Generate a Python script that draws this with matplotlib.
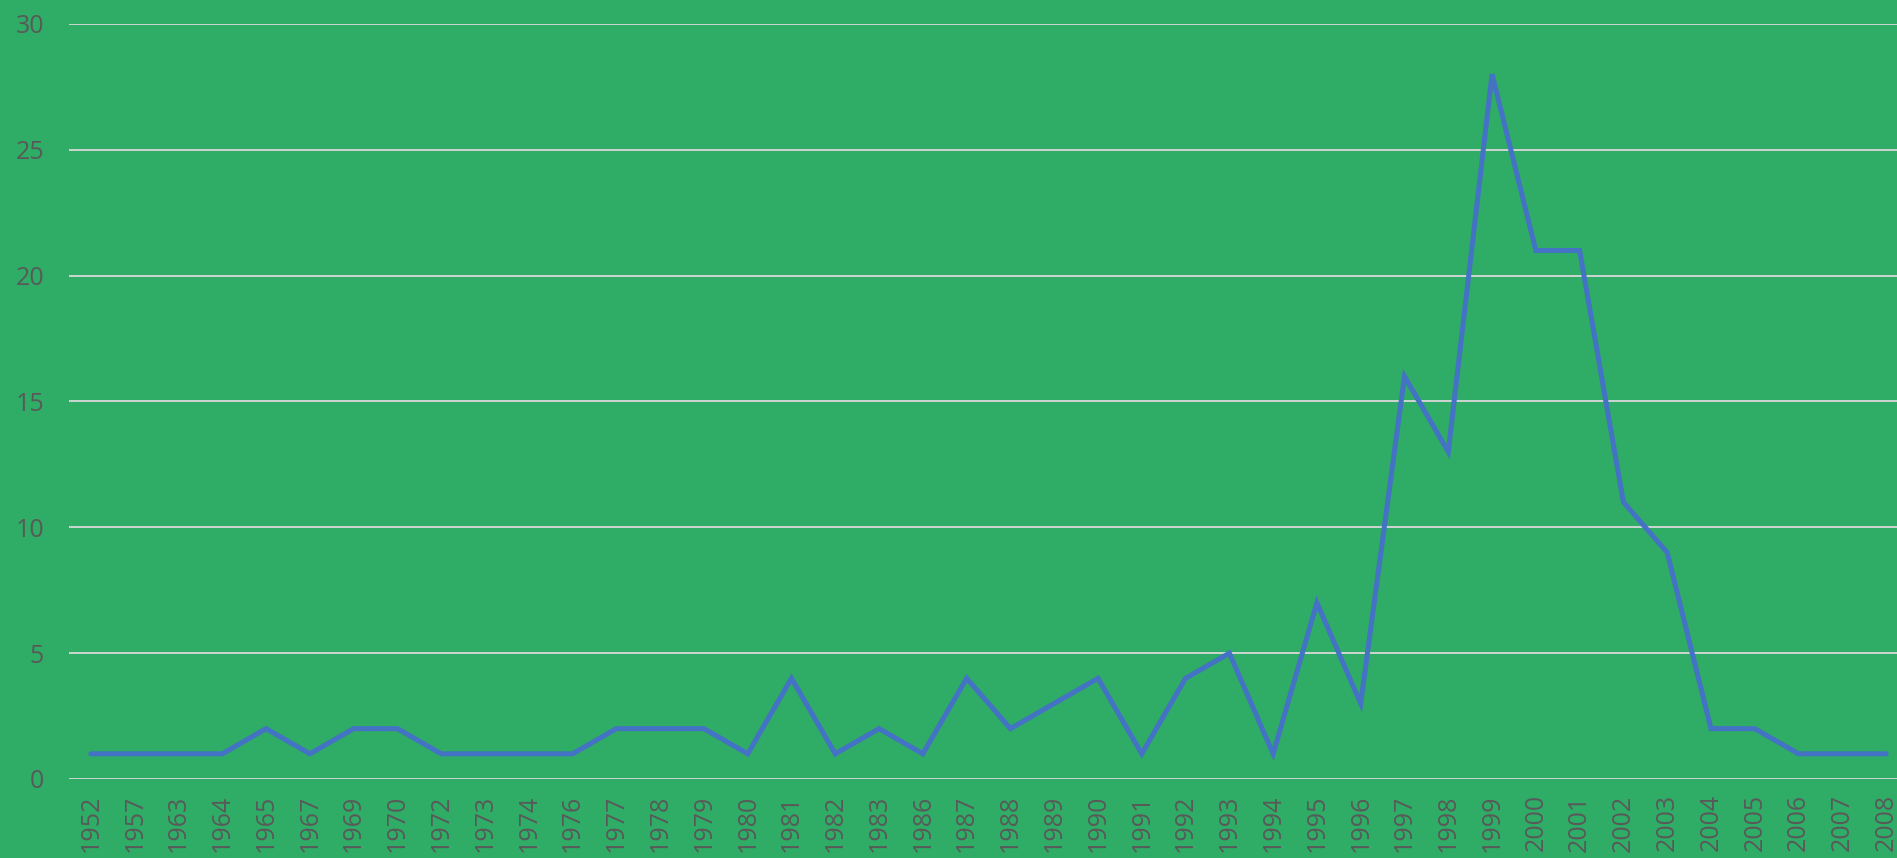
import matplotlib.pyplot as plt

years = ["1952", "1957", "1963", "1964", "1965", "1967", "1969", "1970", "1972", "1973",
         "1974", "1976", "1977", "1978", "1979", "1980", "1981", "1982", "1983", "1986",
         "1987", "1988", "1989", "1990", "1991", "1992", "1993", "1994", "1995", "1996",
         "1997", "1998", "1999", "2000", "2001", "2002", "2003", "2004", "2005", "2006",
         "2007", "2008"]
counts = [1, 1, 1, 1, 2, 1, 2, 2, 1, 1,
          1, 1, 2, 2, 2, 1, 4, 1, 2, 1,
          4, 2, 3, 4, 1, 4, 5, 1, 7, 3,
          16, 13, 28, 21, 21, 11, 9, 2, 2, 1,
          1, 1]
y_ticks = [0, 5, 10, 15, 20, 25, 30]

bg = "#2FAC66"
text_color = "#595959"

plt.rcParams['font.family'] = ['Open Sans', 'DejaVu Sans']

fig = plt.figure(figsize=(18.97, 8.58), dpi=100, facecolor=bg)
ax = fig.add_axes([0.0364, 0.0921, 0.9694, 0.880])
ax.set_facecolor(bg)

x = list(range(len(years)))
ax.plot(x, counts, color="#4472C4", linewidth=3.6, solid_capstyle="round", solid_joinstyle="miter", zorder=3)

ax.set_xlim(-0.5, len(years) - 0.5)
ax.set_ylim(0, 30)
ax.set_yticks(y_ticks)
ax.set_xticks(x)
ax.set_xticklabels(years, rotation=90)

ax.grid(axis="y", color="#D9D9D9", linewidth=1.3)
ax.set_axisbelow(True)
for s in ax.spines.values():
    s.set_visible(False)
ax.tick_params(axis="both", length=0, labelsize=18, labelcolor=text_color)
ax.tick_params(axis="y", pad=18)
ax.tick_params(axis="x", pad=11)

fig.savefig("out.png", dpi=100, facecolor=bg)
